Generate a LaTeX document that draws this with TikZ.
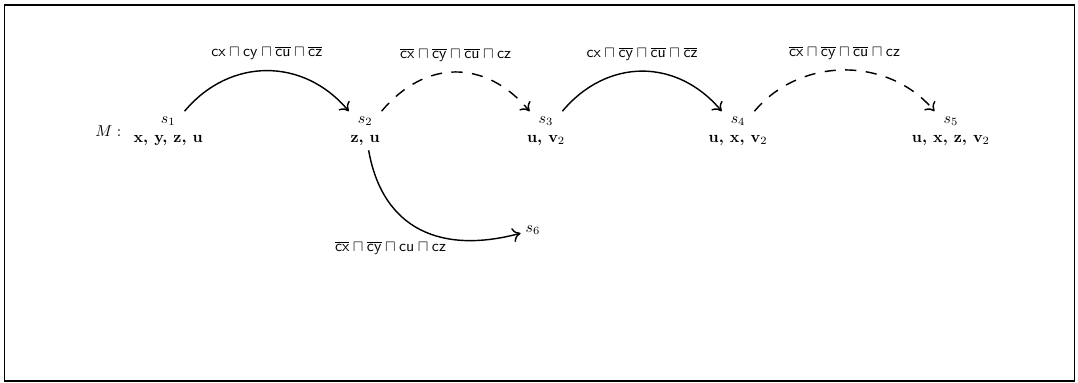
\documentclass[tikz,border=0pt]{standalone}
\usepackage{amsmath,amssymb}
\usetikzlibrary{arrows.meta,positioning}
\newcommand{\cn}[1]{\overline{\mathsf{#1}}}
\newcommand{\cp}[1]{\mathsf{#1}}
\begin{document}
\begin{tikzpicture}[
st/.style={align=center,inner sep=3pt},
arr/.style={-{To[length=5pt,width=9pt]},line width=0.9pt},
dsh/.style={dash pattern=on 7pt off 6pt},
bnd/.style={out=50,in=130,looseness=#1},
lbl/.style={midway,above=3pt}
]
\useasboundingbox (0,0) rectangle (23.91,8.49);
\draw[line width=0.7pt] (0.09,0.04) rectangle (23.84,8.38);
\node[st] (s1) at (3.73,5.59) {$s_1$\\\textbf{x, y, z, u}};
\node[st] (s2) at (8.10,5.59) {$s_2$\\\textbf{z, u}};
\node[st] (s3) at (12.11,5.59) {$s_3$\\\textbf{u, v}$_2$};
\node[st] (s4) at (16.37,5.59) {$s_4$\\\textbf{u, x, v}$_2$};
\node[st] (s5) at (21.09,5.59) {$s_5$\\\textbf{u, x, z, v}$_2$};
\node[st] (s6) at (11.82,3.39) {$s_6$};
\node[left=1pt of s1] (m) {$M:$};
\draw[arr] (s1) to[bnd=1.1] node[lbl] {$\cp{cx}\sqcap\cp{cy}\sqcap\cn{cu}\sqcap\cn{cz}$} (s2);
\draw[arr,dsh] (s2) to[bnd=1.18] node[lbl] {$\cn{cx}\sqcap\cn{cy}\sqcap\cn{cu}\sqcap\cp{cz}$} (s3);
\draw[arr] (s3) to[bnd=1.12] node[lbl] {$\cp{cx}\sqcap\cn{cy}\sqcap\cn{cu}\sqcap\cn{cz}$} (s4);
\draw[arr,dsh] (s4) to[bnd=1.02] node[lbl] {$\cn{cx}\sqcap\cn{cy}\sqcap\cn{cu}\sqcap\cp{cz}$} (s5);
\draw[arr] (s2) to[out=-80,in=195,looseness=1.2]
  node[pos=0.66,anchor=north east,inner sep=1pt] {$\cn{cx}\sqcap\cn{cy}\sqcap\cp{cu}\sqcap\cp{cz}$} (s6);
\end{tikzpicture}
\end{document}
